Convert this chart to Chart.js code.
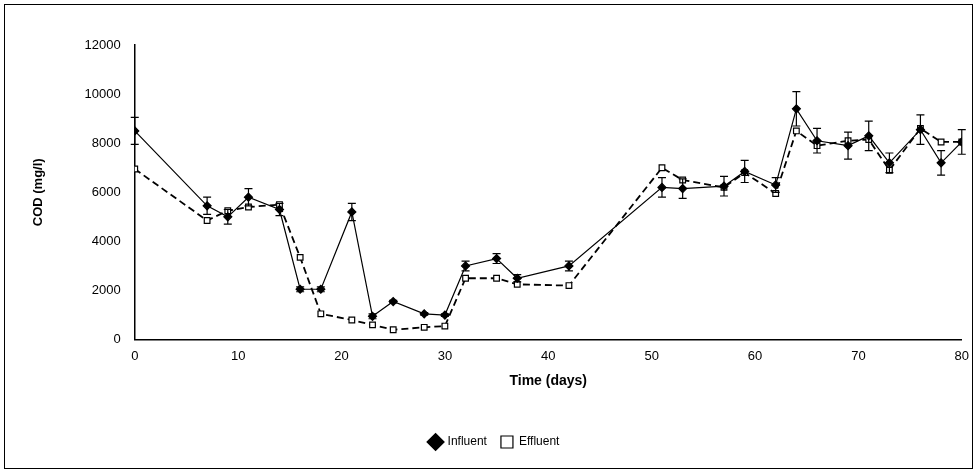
<!DOCTYPE html>
<html>
<head>
<meta charset="utf-8">
<script src="https://cdn.jsdelivr.net/npm/chart.js@4"></script>
<style>
  html, body { margin: 0; padding: 0; background: #fff; }
  #wrap { position: absolute; left: 4px; top: 4px; width: 969px; height: 465px; border: 1px solid #000; box-sizing: border-box; }
  canvas { display: block; }
</style>
</head>
<body>
<div id="wrap"><canvas id="chart"></canvas></div>
<script>
const days = [0, 7, 9, 11, 14, 16, 18, 21, 23, 25, 28, 30, 32, 35, 37, 42, 51, 53, 57, 59, 62, 64, 66, 69, 71, 73, 76, 78, 80];
const influent = [8500, 5450, 5000, 5800, 5300, 2050, 2050, 5200, 950, 1550, 1050, 1000, 3000, 3300, 2500, 3000, 6200, 6150, 6250, 6850, 6300, 9400, 8100, 7900, 8300, 7200, 8550, 7200, 8050];
const effluent = [6950, 4850, 5250, 5400, 5500, 3350, 1050, 800, 600, 400, 500, 550, 2500, 2500, 2250, 2200, 7000, 6500, 6200, 6800, 5950, 8500, 7900, 8100, 8150, 6900, 8600, 8050, 8050];
const influentErr = [550, 350, 300, 350, 250, 100, 100, 350, 100, 50, 50, 50, 200, 200, 150, 200, 400, 400, 400, 450, 300, 700, 500, 550, 600, 400, 600, 500, 500];

const toPoints = (ys) => days.map((d, i) => ({ x: d, y: ys[i] }));

const errorBars = {
  id: 'errorBars',
  afterDatasetsDraw(chart) {
    const { ctx, scales: { x, y } } = chart;
    ctx.save();
    ctx.strokeStyle = '#000';
    ctx.lineWidth = 1.2;
    days.forEach((d, i) => {
      const px = x.getPixelForValue(d);
      const top = y.getPixelForValue(influent[i] + influentErr[i]);
      const bot = y.getPixelForValue(influent[i] - influentErr[i]);
      ctx.beginPath();
      ctx.moveTo(px, top); ctx.lineTo(px, bot);
      ctx.moveTo(px - 4, top); ctx.lineTo(px + 4, top);
      ctx.moveTo(px - 4, bot); ctx.lineTo(px + 4, bot);
      ctx.stroke();
    });
    ctx.restore();
  }
};

new Chart(document.getElementById('chart'), {
  type: 'scatter',
  data: {
    datasets: [
      {
        label: 'Influent',
        data: toPoints(influent),
        showLine: true,
        borderColor: '#000',
        borderWidth: 1.2,
        backgroundColor: '#000',
        pointStyle: 'rectRot',
        pointRadius: 4,
      },
      {
        label: 'Effluent',
        data: toPoints(effluent),
        showLine: true,
        borderColor: '#000',
        borderWidth: 1.8,
        borderDash: [7, 4],
        backgroundColor: '#fff',
        pointStyle: 'rect',
        pointRadius: 4,
        pointBorderWidth: 1.2,
      },
    ],
  },
  options: {
    responsive: true,
    maintainAspectRatio: false,
    animation: false,
    layout: { padding: { left: 22, right: 10, top: 40, bottom: 10 } },
    plugins: {
      legend: {
        position: 'bottom',
        labels: { color: '#000', font: { family: 'Liberation Sans', size: 12 }, usePointStyle: true, padding: 14 },
      },
      tooltip: { enabled: false },
    },
    scales: {
      x: {
        type: 'linear', min: 0, max: 80,
        ticks: { stepSize: 10, color: '#000', font: { family: 'Liberation Sans', size: 13 } },
        grid: { display: false, drawTicks: true, tickLength: 6, tickColor: '#000' },
        border: { color: '#000', width: 1.5 },
        title: { display: true, text: 'Time (days)', color: '#000', font: { family: 'Liberation Sans', size: 14, weight: 'bold' }, padding: { top: 6, bottom: 32 } },
      },
      y: {
        min: 0, max: 12000,
        ticks: { stepSize: 2000, color: '#000', font: { family: 'Liberation Sans', size: 13 }, callback: (v) => String(v), padding: 8 },
        grid: { display: false, drawTicks: true, tickLength: 6, tickColor: '#000' },
        border: { color: '#000', width: 1.5 },
        title: { display: true, text: 'COD (mg/l)', color: '#000', font: { family: 'Liberation Sans', size: 13, weight: 'bold' }, padding: { bottom: 30 } },
      },
    },
  },
  plugins: [errorBars],
});
</script>
</body>
</html>
